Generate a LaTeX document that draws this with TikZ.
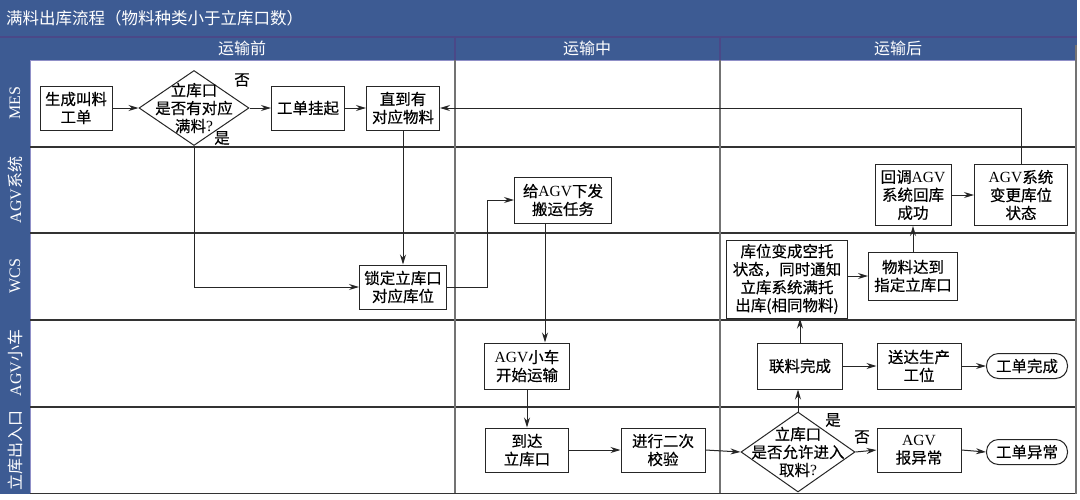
\documentclass[tikz,border=0pt]{standalone}
\usepackage{fontspec}
\setmainfont{Liberation Serif}
\newfontfamily\cjk[FakeBold=0.35]{Noto Sans CJK SC}
\newfontfamily\cjkhdr{Noto Sans CJK SC}
\newfontfamily\lat{Liberation Serif}
\usetikzlibrary{arrows.meta,shapes.geometric,calc}
\definecolor{hdrblue}{HTML}{3D5B93}
\definecolor{hdrline}{HTML}{4A4888}
\definecolor{hdredge}{HTML}{9090C8}
\newcommand\agv{{\lat AGV}}
\begin{document}
\begin{tikzpicture}[x=1pt,y=-1pt,
  txt/.style={font=\cjk\fontsize{15.5}{18}\selectfont, align=center, inner sep=0pt, text=black},
  box/.style={txt, draw=black!85, line width=1pt, fill=white},
  term/.style={box, rounded corners=12pt, minimum width=81pt, minimum height=25pt},
  dia/.style={diamond, draw=black!85, line width=1pt, fill=white, inner sep=0pt},
  arr/.style={draw=black!85, line width=1pt, -{Stealth[length=10pt,width=6pt]}},
  hdr/.style={font=\cjkhdr\fontsize{16}{18}\selectfont, text=white, inner sep=0pt},
  lane/.style={font=\cjkhdr\fontsize{16}{18}\selectfont, text=white, inner sep=0pt, rotate=90},
  grid/.style={draw=black!80, line width=1.1pt},
  col/.style={draw=black!55, line width=1.5pt}]
\useasboundingbox (0,0) rectangle (1080,499);
\fill[white] (0,0) rectangle (1080,499);
% header areas
\fill[hdrblue] (0,0) rectangle (1077,60);
\fill[hdrblue] (0,60) rectangle (30,494);
\draw[hdrline, line width=1.2pt] (0,37) -- (1077,37);
\draw[hdrline, line width=1.2pt] (455,37) -- (455,60);
\draw[hdrline, line width=1.2pt] (720,37) -- (720,60);
\draw[hdredge, line width=1pt] (30,60.5) -- (1077,60.5);
\draw[hdredge, line width=1pt] (30.5,60) -- (30.5,494);
\node[hdr, anchor=west, font=\cjkhdr\fontsize{16.5}{18}\selectfont] (title) at (6,18) {满料出库流程（物料种类小于立库口数）};
\node[hdr] (h1) at (242,48) {运输前};
\node[hdr] (h2) at (587,48) {运输中};
\node[hdr] (h3) at (898,48) {运输后};
% lane labels
\node[lane] (l1) at (15,103) {{\lat MES}};
\node[lane] (l2) at (15,190) {{\lat AGV}系统};
\node[lane] (l3) at (15,276) {{\lat WCS}};
\node[lane] (l4) at (15,363) {{\lat AGV}小车};
\node[lane] (l5) at (15,450) {立库出入口};
% grid
\draw[grid] (30,147) -- (1076,147);
\draw[grid] (30,233) -- (1076,233);
\draw[grid] (30,320) -- (1076,320);
\draw[grid] (30,407) -- (1076,407);
\draw[grid] (30,493.5) -- (1076,493.5);
\draw[col] (455,60) -- (455,493);
\draw[col] (720,60) -- (720,493);
\draw[col] (1076,45) -- (1076,494);
% MES lane
\node[box, minimum width=72pt, minimum height=44pt] (n1) at (76,108) {生成叫料\\工单};
\node[dia, minimum width=110pt, minimum height=75pt] (d1) at (194,108) {};
\node[txt] (d1t) at (194,108) {立库口\\是否有对应\\满料{\lat ?}};
\node[txt] (d1no) at (242,80) {否};
\node[txt] (d1yes) at (222,138) {是};
\node[box, minimum width=73pt, minimum height=44pt] (n2) at (308,108) {工单挂起};
\node[box, minimum width=73pt, minimum height=44pt] (n3) at (403,108) {直到有\\对应物料};
% WCS lane
\node[box, minimum width=87pt, minimum height=44pt] (n4) at (403,287) {锁定立库口\\对应库位};
% AGV system lane
\node[box, minimum width=97pt, minimum height=46pt] (n5) at (563,200) {给\agv 下发\\搬运任务};
% AGV car lane
\node[box, minimum width=85pt, minimum height=46pt] (n6) at (527,366) {\agv 小车\\开始运输};
% dock lane
\node[box, minimum width=83pt, minimum height=44pt] (n7) at (527,450) {到达\\立库口};
\node[box, minimum width=84pt, minimum height=44pt] (n8) at (663,450) {进行二次\\校验};
\node[dia, minimum width=114pt, minimum height=80pt] (d2) at (798,452) {};
\node[txt] (d2t) at (798,452) {立库口\\是否允许进入\\取料{\lat ?}};
\node[txt] (d2yes) at (833,420) {是};
\node[txt] (d2no) at (862,437) {否};
\node[box, minimum width=84pt, minimum height=44pt] (n9) at (919,450) {\agv\\报异常};
\node[term] (t2) at (1027,452) {工单异常};
% after transport
\node[box, minimum width=85pt, minimum height=46pt] (n10) at (800,366) {联料完成};
\node[box, minimum width=84pt, minimum height=46pt] (n11) at (919,366) {送达生产\\工位};
\node[term] (t1) at (1027,366) {工单完成};
\node[box, minimum width=121pt, minimum height=78pt] (n12) at (787,279) {库位变成空托\\状态，同时通知\\立库系统满托\\出库(相同物料)};
\node[box, minimum width=89pt, minimum height=48pt] (n13) at (913,276) {物料达到\\指定立库口};
\node[box, minimum width=76pt, minimum height=61pt] (n14) at (913,195) {回调\agv\\系统回库\\成功};
\node[box, minimum width=93pt, minimum height=61pt] (n15) at (1021,195) {\agv 系统\\变更库位\\状态};
% connectors
\draw[arr] (n1.east) -- (d1.west);
\draw[arr] (d1.east) -- (n2.west);
\draw[arr] (n2.east) -- (n3.west);
\draw[arr] (d1.south) |- (n4.west);
\draw[arr] (n3.south) -- (n4.north);
\draw[arr] (n4.east) -- ++(40,0) |- (n5.west);
\draw[arr] ([xshift=-18pt]n5.south) -- ([xshift=-18pt]n5.south |- n6.north);
\draw[arr] (n6.south) -- (n7.north);
\draw[arr] (n7.east) -- (n8.west);
\draw[arr] (n8.east) -- (d2.west);
\draw[arr] (d2.east) -- (n9.west);
\draw[arr] (n9.east) -- (t2.west);
\draw[arr] (d2.north) -- (d2.north |- n10.south);
\draw[arr] (n10.north) -- (n10.north |- n12.south);
\draw[arr] (n10.east) -- (n11.west);
\draw[arr] (n11.east) -- (t1.west);
\draw[arr] (n12.east |- n13.west) -- (n13.west);
\draw[arr] (n13.north) -- (n14.south);
\draw[arr] (n14.east) -- (n15.west);
\draw[arr] (n15.north) |- (n3.east);
\end{tikzpicture}
\end{document}
